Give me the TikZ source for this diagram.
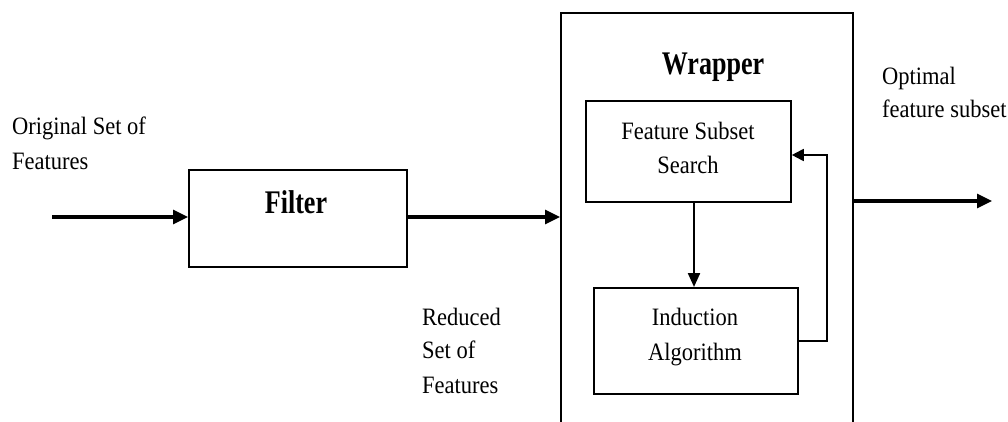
\documentclass[tikz,border=0pt]{standalone}
\usepackage{fontspec}
\setmainfont{Liberation Serif}
\newfontfamily\rfont[FakeStretch=0.9]{Liberation Serif}
\newfontfamily\bfont[FakeStretch=0.79]{Liberation Serif Bold}
\usetikzlibrary{arrows.meta}
\begin{document}
\begin{tikzpicture}[x=1pt,y=-1pt,
  box/.style={draw,line width=1.8pt,rectangle,inner sep=0pt,anchor=north west},
  lbl/.style={font=\rfont\fontsize{25}{33}\selectfont,align=left,inner sep=0pt,anchor=base west},
  ctext/.style={font=\rfont\fontsize{25}{33}\selectfont,align=center,inner sep=0pt,anchor=base},
  btext/.style={font=\bfont\fontsize{33}{40}\selectfont,inner sep=0pt,anchor=base},
  thick arrow/.style={line width=3.2pt,-{Triangle[length=15pt,width=14pt]}},
  thin arrow/.style={line width=2.2pt,-{Triangle[length=14pt,width=12pt]}},
  fb arrow/.style={line width=1.8pt,-{Triangle[length=12pt,width=12pt]}}]
\clip (0,0) rectangle (1008,422);
\fill[white] (0,0) rectangle (1008,422);
% boxes
\node[box,minimum width=218pt,minimum height=97pt] (filter) at (188,169) {};
\node[box,minimum width=292pt,minimum height=440pt] (wrapper) at (560,12) {};
\node[box,minimum width=205pt,minimum height=101pt] (fss) at (585,100) {};
\node[box,minimum width=204pt,minimum height=106pt] (ind) at (593,287) {};
% texts
\node[btext] (filtert) at (296,213) {Filter};
\node[btext] (wrappert) at (713,75) {Wrapper};
\node[ctext] (fsst1) at (688,140) {Feature Subset};
\node[ctext] (fsst2) at (688,173) {Search};
\node[ctext] (indt1) at (695,325) {Induction};
\node[ctext] (indt2) at (695,360) {Algorithm};
\node[lbl] (orig1) at (12,135) {Original Set of};
\node[lbl] (orig2) at (12,169) {Features};
\node[lbl] (red1) at (422,325) {Reduced};
\node[lbl] (red2) at (422,358) {Set of};
\node[lbl] (red3) at (422,393) {Features};
\node[lbl] (opt1) at (882,85) {Optimal};
\node[lbl] (opt2) at (882,118) {feature subset};
% connectors
\coordinate (in) at (52,217);
\coordinate (out) at (992,201);
\coordinate (fb) at (827,155);
\draw[thick arrow] (in) -- (filter.west |- in);
\draw[thick arrow] (filter.east |- in) -- (wrapper.west |- in);
\draw[thick arrow] (wrapper.east |- out) -- (out);
\draw[thin arrow] (694,201) -- (694,287);
\draw[fb arrow] (ind.east) -| (fb) -- (fss.east |- fb);
\end{tikzpicture}
\end{document}
